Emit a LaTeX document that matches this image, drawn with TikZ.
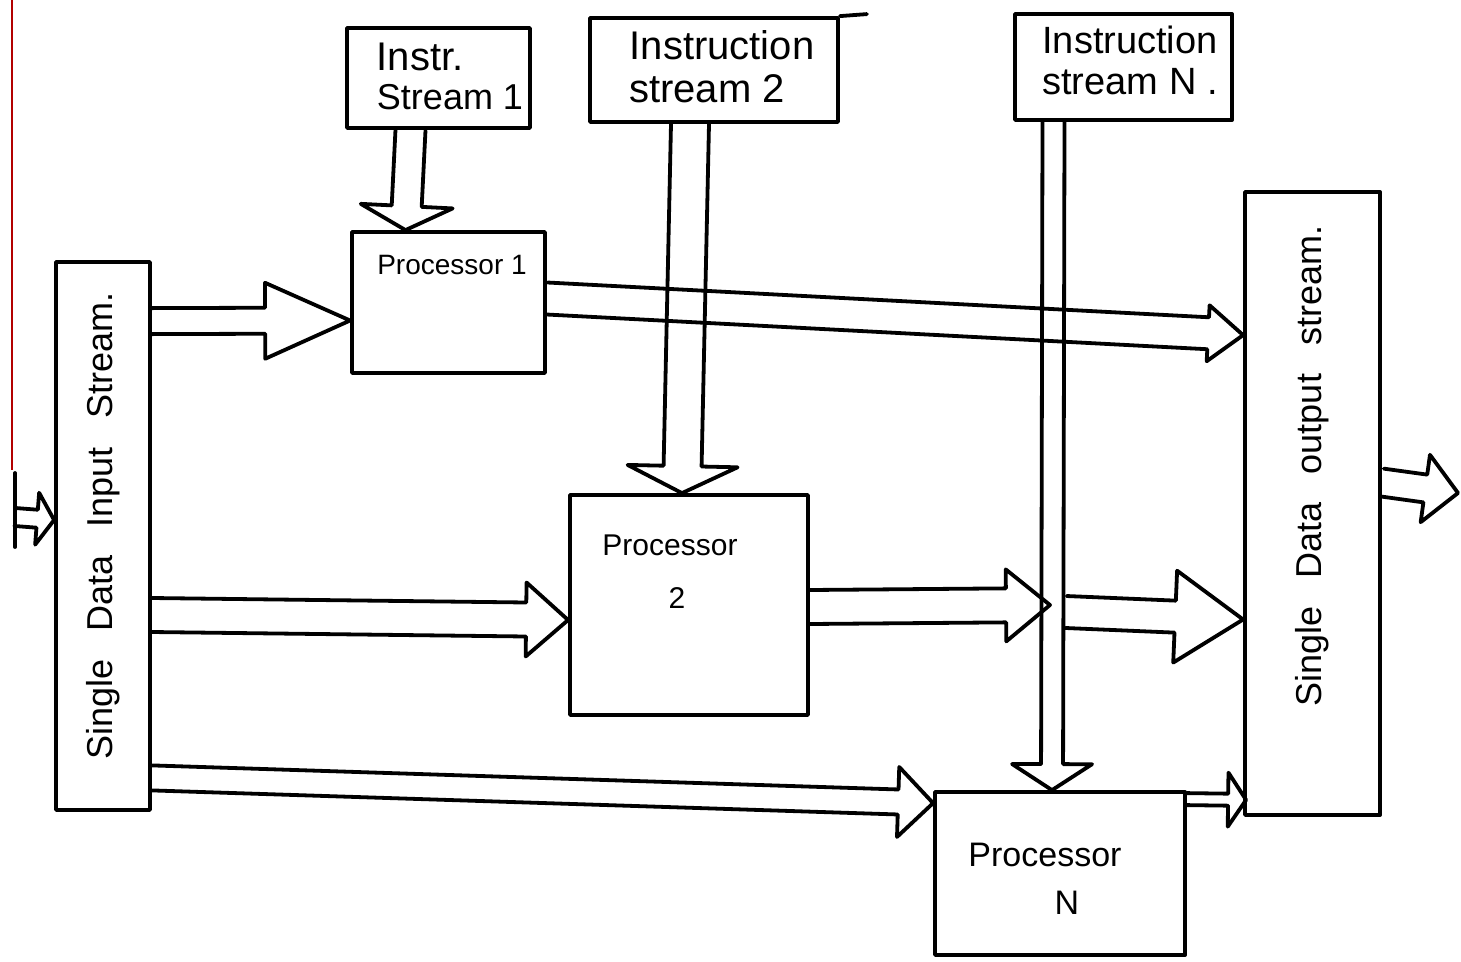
\documentclass[tikz,border=0pt]{standalone}
\usepackage{fontspec}
\setmainfont{Liberation Sans}
\usetikzlibrary{calc}

\tikzset{
  ink/.style={line width=3.8pt, line join=round, line cap=round},
  box/.style={ink, draw, rectangle, inner sep=0pt},
  lbl/.style={inner sep=0pt, font=\fontsize{#1}{#1}\selectfont},
  lbl/.default=30
}

% hollow block arrow: from, to, shaft half width, head half width, head length
\newcommand\blockarrow[5]{%
  \coordinate (arrbase) at ($(#2)!#5!(#1)$);
  \draw[ink] ($(#1)!#3!90:(#2)$) -- ($(arrbase)!#3!90:(#2)$)
    -- ($(arrbase)!#4!90:(#2)$) -- (#2)
    -- ($(arrbase)!#4!-90:(#2)$) -- ($(arrbase)!#3!-90:(#2)$)
    -- ($(#1)!#3!-90:(#2)$);}

\begin{document}
\begin{tikzpicture}[x=1pt,y=-1pt]
\useasboundingbox (0,0) rectangle (1461,961);
\fill[white] (0,0) rectangle (1461,961);

% margin rule of the sheet
\draw[red!70!black, line width=1.5pt] (12,0) -- (12,470);

% instruction streams
\node[box, minimum width=183pt, minimum height=100pt] (i1) at (438.5,78) {};
\node[box, minimum width=248pt, minimum height=104pt] (i2) at (714,70) {};
\node[box, minimum width=217pt, minimum height=106pt] (iN) at (1123.5,67) {};
\draw[ink] (i2.north east) -- ++(27,-2);

\node[lbl=40] (i1a) at (420,57) {Instr.};
\node[lbl=36] (i1b) at (450,97) {Stream 1};
\node[lbl=40] (i2a) at (722,45) {Instruction};
\node[lbl=40] (i2b) at (707,89) {stream 2};
\node[lbl=38] (iNa) at (1130,40) {Instruction};
\node[lbl=38] (iNb) at (1130,82) {stream N .};

% processors
\node[box, minimum width=193pt, minimum height=141pt] (p1) at (448.5,302.5) {};
\node[box, minimum width=238pt, minimum height=220pt] (p2) at (689,605) {};
\node[box, minimum width=250pt, minimum height=163pt] (pN) at (1060,873.5) {};

\node[lbl=28] (p1t) at (452,265) {Processor 1};
\node[lbl=30] (p2a) at (670,545) {Processor};
\node[lbl=30] (p2b) at (677,598) {2};
\node[lbl=34] (pNa) at (1045,855) {Processor};
\node[lbl=34] (pNb) at (1067,903) {N};

% data streams
\node[box, minimum width=94pt, minimum height=548pt] (in) at (103,536) {};
\node[box, minimum width=135pt, minimum height=623pt] (out) at (1312.5,503.5) {};

\node[lbl=36, rotate=90] (intext) at (103,526)
  {Single\hspace{0.5em} Data\hspace{0.5em} Input\hspace{0.5em} Stream.};
\node[lbl=36, rotate=90] (outtext) at (1312,466)
  {Single\hspace{0.5em} Data\hspace{0.5em} output\hspace{0.5em} stream.};

% arrow end points
\coordinate (entry) at (15,517);
\coordinate (a0e) at ($(in.west)+(0,-16)$);
\coordinate (a1s) at ($(in.north east)+(0,61)$);
\coordinate (a1e) at ($(p1.west)+(0,18)$);
\coordinate (a2s) at ($(in.east)+(0,79)$);
\coordinate (a2e) at ($(p2.west)+(0,15)$);
\coordinate (a3s) at ($(in.south east)+(0,-34)$);
\coordinate (a3e) at ($(pN.north west)+(0,13)$);
\coordinate (a4s) at ($(p1.east)+(0,-4)$);
\coordinate (a4e) at ($(out.north west)+(0,145)$);
\coordinate (a5s) at ($(i1.south)+(-28,0)$);
\coordinate (a5e) at ($(p1.north)+(-43,0)$);
\coordinate (a6s) at ($(i2.south)+(-24,0)$);
\coordinate (a6e) at ($(p2.north)+(-7,0)$);
\coordinate (a7s) at ($(iN.south)+(-70,0)$);
\coordinate (a7e) at ($(pN.north)+(-8,0)$);
\coordinate (a8s) at ($(p2.east)+(0,2)$);
\coordinate (cross) at (1050,605);
\coordinate (a9s) at (1066,612);
\coordinate (a9e) at ($(out.west)+(0,116)$);
\coordinate (a10s) at ($(pN.north east)+(0,9)$);
\coordinate (a10e) at ($(out.south west)+(3,-17)$);
\coordinate (a11s) at ($(out.east)+(0,-21)$);
\coordinate (exit) at (1458,493);

% data entering the input stream
\draw[ink] ($(entry)+(0,-44)$) -- ($(entry)+(0,30)$);
\blockarrow{entry}{a0e}{9pt}{26pt}{17pt}

% input stream to processors
\blockarrow{a1s}{a1e}{13pt}{38pt}{85pt}
\blockarrow{a2s}{a2e}{17pt}{37pt}{42pt}
\blockarrow{a3s}{a3e}{12.5pt}{35pt}{35pt}

% instruction streams to processors
\blockarrow{a5s}{a5e}{15pt}{46pt}{24pt}
\blockarrow{a6s}{a6e}{19pt}{55pt}{27pt}
\blockarrow{a7s}{a7e}{11pt}{40pt}{26pt}

% processors to output stream
\blockarrow{a4s}{a4e}{16pt}{28pt}{35pt}
\blockarrow{a8s}{cross}{17pt}{36pt}{44pt}
\blockarrow{a9s}{a9e}{16pt}{46pt}{68pt}
\blockarrow{a10s}{a10e}{6pt}{27pt}{18pt}

% output stream leaving
\blockarrow{a11s}{exit}{14pt}{34pt}{33pt}
\end{tikzpicture}
\end{document}
